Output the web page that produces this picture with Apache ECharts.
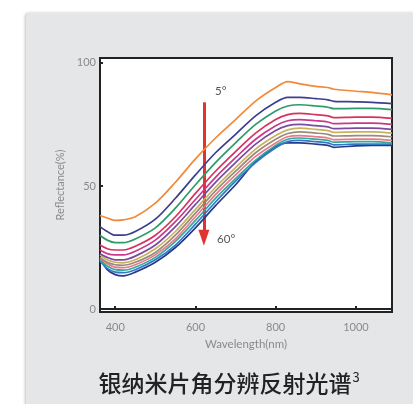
<!DOCTYPE html>
<html><head><meta charset="utf-8">
<script src="https://cdn.jsdelivr.net/npm/echarts@6/dist/echarts.min.js"></script>
<style>
html,body{margin:0;padding:0;background:#fff;width:413px;height:404px;overflow:hidden;}
#card{position:absolute;left:26px;top:13px;width:400px;height:400px;background:#e5e6e8;border-radius:4px 0 0 0;box-shadow:-1px 0 3px rgba(0,0,0,0.25);}
#chart{position:absolute;left:0;top:0;width:413px;height:404px;}
</style></head>
<body>
<div id="card"></div>
<div id="chart"></div>
<script>
// wavelengths (nm)
const wavelengths = [362, 380, 400, 420, 450, 500, 550, 600, 650, 700, 750, 800, 830, 860, 900, 930, 945, 1000, 1040, 1090];
// reflectance (%) per incidence angle
const r5  = [38, 37, 36, 36.2, 37.5, 43, 51.5, 61, 69.5, 77, 84.5, 90, 92.4, 91.5, 90.5, 90, 89.3, 88.5, 88, 87];
const r10 = [33.5, 31.5, 30, 30, 31.5, 36.5, 45, 54.5, 63.5, 71, 78.5, 84, 86, 86, 85.5, 85, 84.4, 84.2, 84, 83.5];
const r15 = [30, 28, 27, 27, 28.5, 33, 41, 50.5, 59.5, 67.5, 75, 80.5, 82.5, 83, 82.5, 82, 81.4, 81.5, 81.5, 81];
const r20 = [26, 24.5, 24, 24, 25.5, 30, 37.5, 47, 56, 64, 71.5, 77, 79, 79.5, 79, 78.5, 77.8, 78, 78, 77.5];
const r25 = [24, 22.5, 22, 22, 23.5, 28, 35.5, 44.5, 53.5, 61.5, 69, 74.5, 76.5, 77, 76.5, 76, 75.3, 75.5, 75.5, 75];
const r30 = [22.5, 21, 20, 20, 21.5, 26, 33.5, 42.5, 51.5, 59.5, 67, 72.5, 74.5, 75, 74.5, 74, 73.3, 73.5, 73.5, 73];
const r35 = [22, 20, 19, 18.8, 20, 24.5, 31.5, 40.5, 49.5, 57.5, 65, 70.5, 72.8, 73.5, 73, 72.5, 71.8, 72, 72, 71.5];
const r40 = [21, 19, 18, 17.8, 19, 23, 30, 39, 48, 56, 63.5, 69, 71.3, 72, 71.5, 71, 70.3, 70.5, 70.5, 70];
const r45 = [20.5, 18.5, 17, 16.8, 18, 22, 28.5, 37.5, 46.5, 54.5, 62, 67.5, 70, 70.5, 70, 69.5, 68.8, 69, 69, 68.5];
const r50 = [20, 17.5, 16, 15.8, 17, 21, 27.5, 36, 45, 53, 60.5, 66.5, 69, 69.5, 69, 68.5, 67.8, 68, 68, 67.5];
const r55 = [19.5, 16.5, 15, 14.8, 16, 20, 26, 34.5, 43.5, 52, 59.5, 65.5, 68, 68.5, 68, 67.5, 66.7, 67, 67, 67];
const r60 = [21, 16, 14, 13.5, 15, 19, 25, 33, 42, 50.5, 60, 66, 67.5, 67.5, 67, 66.5, 65.7, 66.3, 66.5, 66.5];
const angles = ['5°','10°','15°','20°','25°','30°','35°','40°','45°','50°','55°','60°'];
const seriesValues = [r5, r10, r15, r20, r25, r30, r35, r40, r45, r50, r55, r60];
const colors = ['#f28a3a','#3b3f8f','#2f9a6b','#d6335c','#c8388f','#7c4b9e','#c7b25f','#9b8a7a','#e57a8a','#3aa6a0','#2e7bc4','#283a8c'];
const yTicks = [0, 50, 100];
const xTicks = [400, 600, 800, 1000];
// annotation arrow (data coords)
const arrowX = 621, arrowTop = 84, arrowBottom = 29;

const chart = echarts.init(document.getElementById('chart'), null, {renderer:'canvas'});
const series = seriesValues.map((vals, i) => ({
  name: angles[i], type: 'line', showSymbol: false, smooth: 0.3,
  lineStyle: {width: 1.7, color: colors[i]}, itemStyle: {color: colors[i]},
  z: 20 - i,
  data: wavelengths.map((w, j) => [w, vals[j]])
}));
series.push({
  type: 'line', data: [], z: 30,
  markLine: {
    silent: true, symbol: ['none', 'triangle'], symbolSize: [11, 16],
    lineStyle: {color: '#e2332f', width: 3, type: 'solid'},
    label: {show: false},
    data: [[{coord: [arrowX, arrowTop]}, {coord: [arrowX, arrowBottom]}]]
  }
});
const axisFont = {color: '#8a8a8a', fontSize: 11, fontFamily: 'Lato'};
chart.setOption({
  animation: false,
  backgroundColor: 'transparent',
  grid: {left: 100, right: 21, top: 58, bottom: 92, show: true, backgroundColor: '#ffffff', borderColor: '#222', borderWidth: 2},
  xAxis: {
    type: 'value', min: 362, max: 1090,
    name: 'Wavelength(nm)', nameLocation: 'middle', nameGap: 26,
    nameTextStyle: {color: '#8a8a8a', fontSize: 11.5, fontFamily: 'Lato'},
    axisLine: {show: true, lineStyle: {color: '#222', width: 2}},
    axisTick: {show: true, inside: true, length: 3, customValues: xTicks, lineStyle: {color: '#222', width: 2}},
    axisLabel: Object.assign({customValues: xTicks, margin: 10, fontSize: 12, formatter: v => String(v)}, axisFont),
    splitLine: {show: false}
  },
  yAxis: {
    type: 'value', min: -1.2, max: 102,
    name: 'Reflectance(%)', nameLocation: 'middle', nameGap: 30,
    nameTextStyle: {color: '#8a8a8a', fontSize: 11, fontFamily: 'Lato'},
    axisLine: {show: true, lineStyle: {color: '#222', width: 2}},
    axisTick: {show: true, inside: true, length: 3, customValues: yTicks, lineStyle: {color: '#222', width: 2}},
    axisLabel: Object.assign({customValues: yTicks, margin: 4}, axisFont),
    splitLine: {show: false}
  },
  series: series
});
const p5 = chart.convertToPixel({gridIndex: 0}, [649, 88]);
const p60 = chart.convertToPixel({gridIndex: 0}, [654, 28]);
chart.setOption({
  graphic: [
    {type: 'text', x: p5[0], y: p5[1] - 7, z: 100, style: {text: '5°', fill: '#555', fontSize: 11.5, fontFamily: 'Lato'}},
    {type: 'text', x: p60[0], y: p60[1] - 7, z: 100, style: {text: '60°', fill: '#555', fontSize: 11.5, fontFamily: 'Lato'}},
    {type: 'text', x: 229, y: 383, z: 100, style: {
      text: '{t|银纳米片角分辨反射光谱}{s|3}', align: 'center', verticalAlign: 'middle',
      rich: {
        t: {fill: '#222', fontSize: 23, fontWeight: 500, fontFamily: 'Noto Sans CJK SC'},
        s: {fill: '#222', fontSize: 13, fontFamily: 'Noto Sans CJK SC', padding: [0, 0, 11, 1]}
      }
    }}
  ]
});
</script>
</body></html>
